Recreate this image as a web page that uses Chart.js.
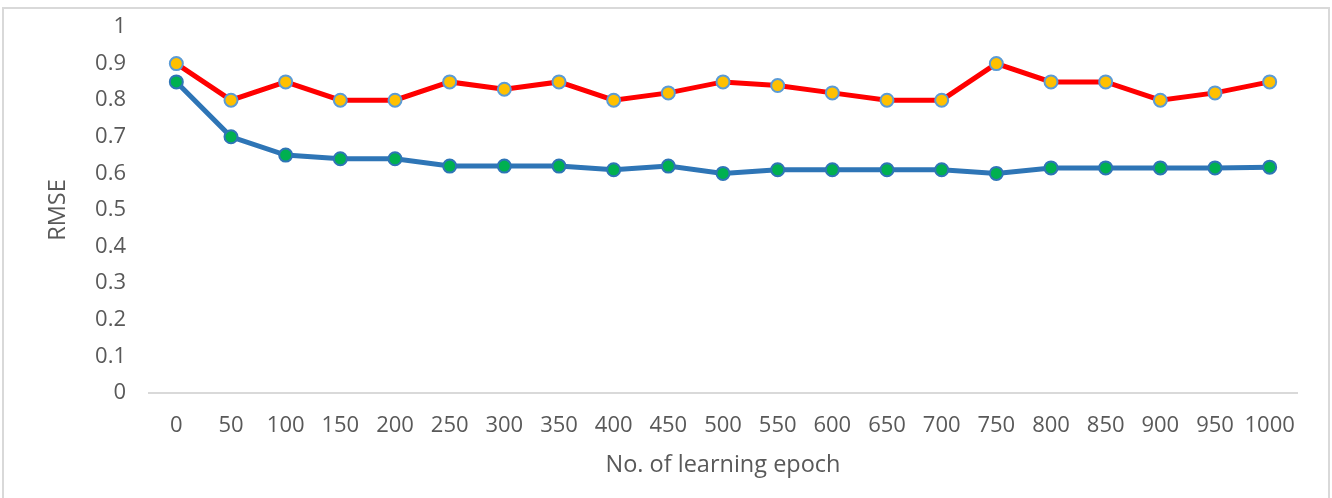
<!DOCTYPE html>
<html>
<head>
<meta charset="utf-8">
<title>RMSE vs. learning epoch</title>
<script src="https://cdn.jsdelivr.net/npm/chart.js@4/dist/chart.umd.min.js"></script>
<style>
  html, body { margin: 0; padding: 0; background: #ffffff; }
  #wrap { position: relative; width: 1332px; height: 498px; overflow: hidden; }
  #frame {
    position: absolute; left: 2px; top: 7px; width: 1328px; height: 520px;
    border: 2px solid #d9d9d9; box-sizing: border-box;
  }
  #c { position: absolute; left: 0; top: 0; }
</style>
</head>
<body>
<div id="wrap">
  <div id="frame"></div>
  <canvas id="c" width="1332" height="498"></canvas>
</div>
<script>
// Epoch categories along the x axis
const epochs = ['0', '50', '100', '150', '200', '250', '300', '350', '400', '450', '500',
                '550', '600', '650', '700', '750', '800', '850', '900', '950', '1000'];

// RMSE per epoch, upper (red) series
const rmseRed = [0.90, 0.80, 0.85, 0.80, 0.80, 0.85, 0.83, 0.85, 0.80, 0.82, 0.85,
                 0.84, 0.82, 0.80, 0.80, 0.90, 0.85, 0.85, 0.80, 0.82, 0.85];

// RMSE per epoch, lower (blue) series
const rmseBlue = [0.85, 0.70, 0.65, 0.64, 0.64, 0.62, 0.62, 0.62, 0.61, 0.62, 0.60,
                  0.61, 0.61, 0.61, 0.61, 0.60, 0.615, 0.615, 0.615, 0.615, 0.617];

// Y axis tick labels, bottom to top
const yTickLabels = ['0', '0.1', '0.2', '0.3', '0.4', '0.5', '0.6', '0.7', '0.8', '0.9', '1'];

const FONT = "'Open Sans', 'Liberation Sans', sans-serif";
const TEXT = '#595959';
const TICK_SIZE = 22;
const TITLE_SIZE = 23.5;

new Chart(document.getElementById('c'), {
  type: 'line',
  data: {
    labels: epochs,
    datasets: [
      {
        data: rmseRed,
        borderColor: '#ff0000',
        borderWidth: 5,
        pointBackgroundColor: '#ffc000',
        pointBorderColor: '#5b9bd5',
        pointBorderWidth: 2,
        pointRadius: 6.5,
        tension: 0,
        order: 2
      },
      {
        data: rmseBlue,
        borderColor: '#2e75b6',
        borderWidth: 5,
        pointBackgroundColor: '#00b050',
        pointBorderColor: '#2e75b6',
        pointBorderWidth: 2,
        pointRadius: 6.5,
        tension: 0,
        order: 1
      }
    ]
  },
  options: {
    responsive: false,
    animation: false,
    layout: { padding: { left: 0, right: 35, top: 27, bottom: 0 } },
    plugins: {
      legend: { display: false },
      tooltip: { enabled: false }
    },
    scales: {
      x: {
        offset: true,
        grid: { display: false, drawTicks: false },
        border: { display: true, color: '#d9d9d9', width: 2 },
        ticks: {
          color: TEXT,
          font: { family: FONT, size: TICK_SIZE },
          padding: 20,
          maxRotation: 0,
          autoSkip: false
        },
        title: {
          display: true,
          text: 'No. of learning epoch',
          color: TEXT,
          font: { family: FONT, size: TITLE_SIZE },
          padding: { top: 0, bottom: 19 }
        },
        afterFit: (s) => { s.height = 105; }
      },
      y: {
        min: 0,
        max: 1,
        grid: { display: false, drawTicks: false },
        border: { display: false },
        ticks: {
          stepSize: 0.1,
          color: TEXT,
          font: { family: FONT, size: TICK_SIZE },
          padding: 23,
          callback: (v, i) => yTickLabels[i]
        },
        title: {
          display: true,
          text: 'RMSE',
          color: TEXT,
          font: { family: FONT, size: TITLE_SIZE },
          padding: { top: 44, bottom: 0 }
        },
        afterFit: (s) => {
          s.width = 149;
          s.paddingTop = 0;
          s.paddingBottom = 0;
        }
      }
    }
  }
});
</script>
</body>
</html>
